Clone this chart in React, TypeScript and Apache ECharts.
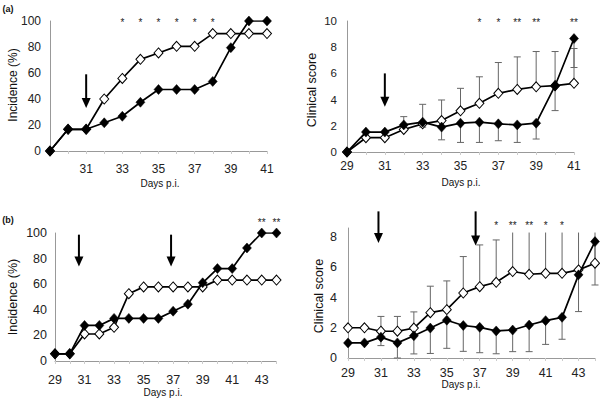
import React, { useEffect, useRef } from "react";
import * as echarts from "echarts";

// ---------- Panel (a) ----------
const A_DAYS = [29, 30, 31, 32, 33, 34, 35, 36, 37, 38, 39, 40, 41];
const A_INC_FILLED = [0, 16.7, 16.7, 21.7, 26.7, 37.5, 47.3, 47.3, 47.3, 53.5, 79.5, 100, 100];
const A_INC_OPEN = [0, 16.7, 16.7, 40, 55.8, 70.5, 75.4, 80.5, 80.5, 90.3, 90.3, 90.3, 90.3];
const A_SCORE_FILLED = [0, 1.52, 1.52, 2.07, 2.28, 1.9, 2.2, 2.28, 2.15, 2.07, 2.2, 5.06, 8.66];
const A_SCORE_OPEN = [0, 1.09, 1.09, 1.72, 2.15, 2.4, 3.14, 3.72, 4.48, 4.78, 4.98, 5.06, 5.24];
const A_SCORE_OPEN_UPPER = [null, null, null, 2.7, 3.64, 3.97, 4.86, 5.74, 6.83, 7.26, 7.67, 7.67, 7.9];
const A_SCORE_FILLED_LOWER = [null, null, null, null, 1.9, 0.93, 0.73, 0.73, 0.86, 0.73, 0.99, 3.16, 6.45];
const A_INC_X_LABELS = [31, 33, 35, 37, 39, 41];
const A_SCORE_X_LABELS = [29, 31, 33, 35, 37, 39, 41];
const A_INC_Y_TICKS = [0, 20, 40, 60, 80, 100];
const A_SCORE_Y_TICKS = [0, 2, 4, 6, 8, 10];
const A_INC_STAR_DAYS = [33, 34, 35, 36, 37, 38];
const A_INC_STARS = ["*", "*", "*", "*", "*", "*"];
const A_SCORE_STAR_DAYS = [36, 37, 38, 39, 41];
const A_SCORE_STARS = ["*", "*", "**", "**", "**"];
const A_INC_ARROWS = [[31, 59, 33]];
const A_SCORE_ARROWS = [[31, 6.0, 3.45]];

// ---------- Panel (b) ----------
const B_DAYS = [29, 30, 31, 32, 33, 34, 35, 36, 37, 38, 39, 40, 41, 42, 43, 44];
const B_INC_FILLED = [5.6, 5.6, 27.8, 27.8, 33.3, 33.3, 33.3, 33.3, 38.9, 44.4, 61.1, 72.2, 72.2, 88.3, 100, 100];
const B_INC_OPEN = [5.6, 5.6, 21.1, 21.1, 26.3, 52.6, 57.9, 57.9, 57.9, 57.9, 57.9, 63.2, 63.2, 63.2, 63.2, 63.2];
const B_SCORE_FILLED = [1.0, 1.0, 1.38, 1.0, 1.47, 1.98, 2.5, 2.15, 2.03, 1.79, 1.85, 2.18, 2.47, 2.69, 5.5, 7.7];
const B_SCORE_OPEN = [2.0, 2.0, 1.77, 1.77, 1.98, 3.0, 3.2, 4.3, 4.72, 5.01, 5.72, 5.54, 5.6, 5.6, 5.83, 6.27];
const B_SCORE_OPEN_UPPER = [null, null, 2.75, 2.75, 3.05, 4.75, 5.1, 6.71, 7.48, 7.81, 8.3, 8.3, 8.3, 8.3, 8.3, 8.3];
const B_SCORE_FILLED_LOWER = [null, null, 0.82, 0, 0.27, 0.3, 0.64, 0.44, 0.35, 0.28, 0.42, 0.42, 0.9, 1.24, 3.07, 4.83];
const B_X_LABELS = [29, 31, 33, 35, 37, 39, 41, 43];
const B_INC_Y_TICKS = [0, 20, 40, 60, 80, 100];
const B_SCORE_Y_TICKS = [0, 2, 4, 6, 8];
const B_INC_STAR_DAYS = [43, 44];
const B_INC_STARS = ["**", "**"];
const B_SCORE_STAR_DAYS = [38, 39, 40, 41, 42];
const B_SCORE_STARS = ["*", "**", "**", "*", "*"];
const B_INC_ARROWS = [[30.62, 98.7, 73.9], [36.86, 98.7, 73.9]];
const B_SCORE_ARROWS = [[30.85, 9.7, 7.6], [36.75, 9.7, 7.45]];
const B_SCORE_CLIP = 8.3;

const FONT = "'Liberation Sans', Arial, Helvetica, sans-serif";

type Panel = {
  grid: { left: number; top: number; width: number; height: number };
  xMax: number;
  yMax: number;
  yInterval: number;
  xLabels: number[];
  yTicks: number[];
  xFont: number;
  yFont: number;
  xMargin: number;
  yMargin: number;
};

const PANELS: Panel[] = [
  { grid: { left: 50, top: 21, width: 217, height: 130 }, xMax: 41, yMax: 100, yInterval: 20, xLabels: A_INC_X_LABELS, yTicks: A_INC_Y_TICKS, xFont: 12, yFont: 12, xMargin: 12, yMargin: 9 },
  { grid: { left: 347, top: 21, width: 227, height: 131 }, xMax: 41, yMax: 10, yInterval: 2, xLabels: A_SCORE_X_LABELS, yTicks: A_SCORE_Y_TICKS, xFont: 12, yFont: 11.5, xMargin: 8, yMargin: 10 },
  { grid: { left: 55, top: 233, width: 221.5, height: 128 }, xMax: 44, yMax: 100, yInterval: 20, xLabels: B_X_LABELS, yTicks: B_INC_Y_TICKS, xFont: 12.5, yFont: 12.5, xMargin: 12, yMargin: 8 },
  { grid: { left: 348, top: 228, width: 247, height: 130 }, xMax: 44, yMax: 8.6, yInterval: 2, xLabels: B_X_LABELS, yTicks: B_SCORE_Y_TICKS, xFont: 12.5, yFont: 12.5, xMargin: 8, yMargin: 11 },
];

function lineSeries(idx: number, days: number[], vals: number[], filled: boolean) {
  return {
    type: "line",
    xAxisIndex: idx,
    yAxisIndex: idx,
    data: days.map((d, i) => [d, vals[i]]),
    symbol: "diamond",
    symbolSize: [9, 10],
    showSymbol: true,
    lineStyle: { color: "#000", width: 1.7 },
    itemStyle: filled
      ? { color: "#000", borderColor: "#000", borderWidth: 0.5 }
      : { color: "#fff", borderColor: "#000", borderWidth: 1 },
    z: filled ? 5 : 4,
    silent: true,
  };
}

function errSeries(idx: number, days: number[], base: number[], ends: (number | null)[], clipTop?: number) {
  const data: number[][] = [];
  days.forEach((d, i) => {
    const e = ends[i];
    if (e !== null && e !== undefined) data.push([d, base[i], e]);
  });
  return {
    type: "custom",
    xAxisIndex: idx,
    yAxisIndex: idx,
    dimensions: ["x", "y", "e"],
    encode: { x: 0, y: [1, 2] },
    data,
    z: 2,
    silent: true,
    itemStyle: { color: "#666" },
    renderItem: (params: any, api: any) => {
      const x = api.value(0);
      const y = api.value(1);
      const e = api.value(2);
      const p0 = api.coord([x, y]);
      const p1 = api.coord([x, e]);
      const st = { stroke: "#666", lineWidth: 1 };
      const children: any[] = [
        { type: "line", shape: { x1: p0[0], y1: p0[1], x2: p1[0], y2: p1[1] }, style: st },
      ];
      const clipped = clipTop !== undefined && e >= clipTop;
      if (!clipped) {
        children.push({ type: "line", shape: { x1: p1[0] - 3.5, y1: p1[1], x2: p1[0] + 3.5, y2: p1[1] }, style: st });
      }
      return { type: "group", children };
    },
  };
}

function arrowSeries(idx: number, arrows: number[][]) {
  return {
    type: "custom",
    xAxisIndex: idx,
    yAxisIndex: idx,
    data: arrows,
    z: 6,
    silent: true,
    clip: false,
    itemStyle: { color: "#000" },
    renderItem: (params: any, api: any) => {
      const x = api.value(0);
      const p0 = api.coord([x, api.value(1)]);
      const p1 = api.coord([x, api.value(2)]);
      const head = 10;
      return {
        type: "group",
        children: [
          { type: "line", shape: { x1: p0[0], y1: p0[1], x2: p1[0], y2: p1[1] - head + 1 }, style: { stroke: "#000", lineWidth: 2 } },
          { type: "polygon", shape: { points: [[p1[0] - 4.5, p1[1] - head], [p1[0] + 4.5, p1[1] - head], [p1[0], p1[1]]] }, style: { fill: "#000" } },
        ],
      };
    },
  };
}

function starSeries(idx: number, days: number[], texts: string[], level: number) {
  return {
    type: "custom",
    xAxisIndex: idx,
    yAxisIndex: idx,
    data: days.map((d) => [d, level]),
    z: 6,
    silent: true,
    clip: false,
    itemStyle: { color: "#222" },
    renderItem: (params: any, api: any) => {
      const p = api.coord([api.value(0), api.value(1)]);
      return {
        type: "text",
        x: p[0],
        y: p[1],
        style: { text: texts[params.dataIndex], fontSize: 10, fontFamily: FONT, fill: "#222", stroke: "none", align: "center", verticalAlign: "middle" },
      };
    },
  };
}

function textEl(text: string, x: number, y: number, size: number, rotate = false, bold = false) {
  return {
    type: "text",
    x,
    y,
    rotation: rotate ? Math.PI / 2 : 0,
    style: { text, fontSize: size, fontFamily: FONT, fontWeight: bold ? "bold" : "normal", fill: "#111", align: "center", verticalAlign: "middle" },
  };
}

export default function App() {
  const ref = useRef<HTMLDivElement>(null);
  useEffect(() => {
    if (!ref.current) return;
    const chart = echarts.init(ref.current, undefined, { renderer: "svg" });
    const option: any = {
      animation: false,
      backgroundColor: "#fff",
      color: ["#000"],
      grid: PANELS.map((p) => ({ ...p.grid, containLabel: false })),
      xAxis: PANELS.map((p, i) => ({
        type: "value",
        gridIndex: i,
        min: 29,
        max: p.xMax,
        interval: 1,
        splitLine: { show: false },
        axisLine: { show: true, lineStyle: { color: "#999", width: 1 } },
        axisTick: { show: true, length: 3, lineStyle: { color: "#ccc" } },
        axisLabel: {
          fontSize: p.xFont,
          fontFamily: FONT,
          color: "#222",
          margin: p.xMargin,
          showMinLabel: true,
          showMaxLabel: true,
          formatter: (v: number) => (p.xLabels.includes(v) ? String(v) : ""),
        },
      })),
      yAxis: PANELS.map((p, i) => ({
        type: "value",
        gridIndex: i,
        min: 0,
        max: p.yMax,
        interval: p.yInterval,
        splitLine: { show: false },
        axisLine: { show: true, lineStyle: { color: "#999", width: 1 } },
        axisTick: { show: false },
        axisLabel: {
          fontSize: p.yFont,
          fontFamily: FONT,
          color: "#222",
          margin: p.yMargin,
          formatter: (v: number) => (p.yTicks.includes(v) ? String(v) : ""),
        },
      })),
      series: [
        lineSeries(0, A_DAYS, A_INC_OPEN, false),
        lineSeries(0, A_DAYS, A_INC_FILLED, true),
        arrowSeries(0, A_INC_ARROWS),
        starSeries(0, A_INC_STAR_DAYS, A_INC_STARS, 99),

        errSeries(1, A_DAYS, A_SCORE_OPEN, A_SCORE_OPEN_UPPER),
        errSeries(1, A_DAYS, A_SCORE_FILLED, A_SCORE_FILLED_LOWER),
        lineSeries(1, A_DAYS, A_SCORE_OPEN, false),
        lineSeries(1, A_DAYS, A_SCORE_FILLED, true),
        arrowSeries(1, A_SCORE_ARROWS),
        starSeries(1, A_SCORE_STAR_DAYS, A_SCORE_STARS, 9.9),

        lineSeries(2, B_DAYS, B_INC_OPEN, false),
        lineSeries(2, B_DAYS, B_INC_FILLED, true),
        arrowSeries(2, B_INC_ARROWS),
        starSeries(2, B_INC_STAR_DAYS, B_INC_STARS, 108),

        errSeries(3, B_DAYS, B_SCORE_OPEN, B_SCORE_OPEN_UPPER, B_SCORE_CLIP),
        errSeries(3, B_DAYS, B_SCORE_FILLED, B_SCORE_FILLED_LOWER),
        lineSeries(3, B_DAYS, B_SCORE_OPEN, false),
        lineSeries(3, B_DAYS, B_SCORE_FILLED, true),
        arrowSeries(3, B_SCORE_ARROWS),
        starSeries(3, B_SCORE_STAR_DAYS, B_SCORE_STARS, 8.75),
      ],
      graphic: [
        textEl("(a)", 8, 9, 9, false, true),
        textEl("(b)", 8, 220, 9, false, true),
        textEl("Incidence (%)", 13, 85, 12, true),
        textEl("Clinical score", 312, 90, 12.5, true),
        textEl("Incidence (%)", 13, 297, 12.5, true),
        textEl("Clinical score", 319, 296, 12.5, true),
        textEl("Days p.i.", 160, 183, 10),
        textEl("Days p.i.", 461, 182, 10),
        textEl("Days p.i.", 163, 392, 10),
        textEl("Days p.i.", 461, 384, 10),
      ],
    };
    chart.setOption(option);
    return () => chart.dispose();
  }, []);
  return (
    <div
      ref={ref}
      style={{ position: "fixed", left: 0, top: 0, width: 600, height: 404, background: "#fff" }}
    />
  );
}
